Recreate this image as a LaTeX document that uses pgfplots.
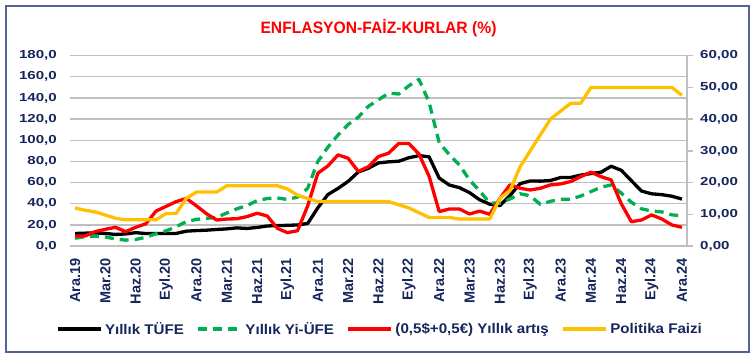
\documentclass[border=0pt]{standalone}
\usepackage{fontspec}
\setmainfont{Liberation Sans}[FakeStretch=1.08]
\newfontfamily\titlefont{Liberation Sans}[FakeStretch=0.95]
\newfontfamily\tickfont{Liberation Sans}[FakeStretch=1.3]
\newfontfamily\plainfont{Liberation Sans}
\usepackage{pgfplots}
\usepackage{pgfplotstable}
\pgfplotsset{compat=1.18}
\definecolor{navy}{RGB}{22,38,92}
\definecolor{gridgray}{RGB}{191,191,191}
\definecolor{framecol}{RGB}{80,100,150}
\definecolor{cgreen}{RGB}{0,176,80}
\definecolor{cred}{RGB}{255,0,0}
\definecolor{cyellow}{RGB}{255,192,0}

\pgfplotstableread{
m tufe ufe kur faiz
0 11.84 7.36 9.5 12
1 12.15 8.84 9.5 11.25
2 12.37 9.26 13.6 10.75
3 11.86 8.50 15.8 9.75
4 10.94 6.71 17.7 8.75
5 11.39 5.53 13.6 8.25
6 12.62 6.17 17.7 8.25
7 11.76 8.33 21 8.25
8 11.77 11.53 33 8.25
9 11.75 14.33 37.5 10.25
10 11.89 18.20 42 10.25
11 14.03 23.11 45 15
12 14.60 25.15 38 17
13 14.97 26.16 30.5 17
14 15.61 27.09 24.6 17
15 16.19 31.20 25.5 19
16 17.14 35.17 25.8 19
17 16.59 38.33 27.8 19
18 17.53 42.89 31 19
19 18.95 44.92 28.4 19
20 19.25 45.52 16.7 19
21 19.58 43.96 12.6 18
22 19.89 46.31 14.5 16
23 21.31 54.62 38 15
24 36.08 79.89 68.8 14
25 48.69 93.53 75.8 14
26 54.44 105.01 86.2 14
27 61.14 114.97 83 14
28 69.97 121.82 70.5 14
29 73.50 132.16 75 14
30 78.62 138.31 84.6 14
31 79.60 144.61 87.8 14
32 80.21 143.75 97 13
33 83.45 151.50 97 12
34 85.51 157.69 87 10.5
35 84.39 136.02 66 9
36 64.27 97.72 32.5 9
37 57.68 86.46 35 9
38 55.18 76.61 35 8.5
39 50.51 62.43 30.3 8.5
40 43.68 52.11 33 8.5
41 39.59 40.76 30 8.5
42 38.21 40.42 45 15
43 47.83 44.50 57.8 17.5
44 58.94 49.41 54.6 25
45 61.53 47.44 53 30
46 61.36 39.39 54.6 35
47 61.98 42.25 57.8 40
48 64.77 44.22 58.7 42.5
49 64.86 44.20 61 45
50 67.07 47.29 65.6 45
51 68.50 51.47 69.8 50
52 69.80 55.66 65.6 50
53 75.45 57.68 62.5 50
54 71.60 50.09 40 50
55 61.78 41.37 23 50
56 51.97 35.17 24.6 50
57 49.38 33.09 29.4 50
58 48.58 32.24 25.6 50
59 47.09 29.47 19.9 50
60 44.38 28.52 17.7 47.5
}\datatable

\begin{document}
\begin{tikzpicture}
\path[use as bounding box] (0,0) rectangle (756bp,358bp);
\draw[framecol, line width=1.5bp] (6bp,6bp) rectangle (749bp,352bp);
\node[text=cred, font=\titlefont\bfseries\fontsize{16.5bp}{18bp}\selectfont] at (378.5bp,330bp) {ENFLASYON-FAİZ-KURLAR (\%)};

\begin{axis}[
  at={(70bp,112bp)}, anchor=south west,
  scale only axis, width=617bp, height=190.3bp,
  xmin=-0.5, xmax=60.5, ymin=0, ymax=180,
  axis line style={draw=none},
  xtick={0,3,...,60},
  xticklabels={Ara.19,Mar.20,Haz.20,Eyl.20,Ara.20,Mar.21,Haz.21,Eyl.21,Ara.21,Mar.22,Haz.22,Eyl.22,Ara.22,Mar.23,Haz.23,Eyl.23,Ara.23,Mar.24,Haz.24,Eyl.24,Ara.24},
  xtick style={draw=none},
  xticklabel style={rotate=90, anchor=east, inner sep=0pt, font=\plainfont\bfseries\fontsize{14.5bp}{16bp}\selectfont, text=navy},
  xticklabel shift=12bp,
  ytick={0,20,...,180},
  ytick style={draw=none},
  ymajorgrids, grid style={gridgray, line width=1.3bp},
  yticklabel style={anchor=east, inner sep=0pt, font=\tickfont\bfseries\fontsize{11.6bp}{13bp}\selectfont, text=navy,
    /pgf/number format/fixed, /pgf/number format/fixed zerofill, /pgf/number format/precision=1,
    /pgf/number format/use comma, /pgf/number format/1000 sep={}, /pgf/number format/assume math mode=true},
  yticklabel shift=13bp,
  legend style={draw=none, fill=none, at={(0.502,-0.436)}, anchor=center, legend columns=4,
    font=\bfseries\fontsize{14bp}{16bp}\selectfont, text=navy,
    /tikz/every even column/.append style={column sep=10bp}, nodes={inner sep=2bp}},
  legend image code/.code={\draw[#1, line width=4.5bp] (0bp,0bp) -- (43bp,0bp);},
  line join=round,
]
\addplot[black, line width=3.3bp] table[x=m, y=tufe] {\datatable};
\addlegendentry{Yıllık TÜFE}
\addplot[cgreen, line width=3.3bp, dash pattern=on 9bp off 6bp] table[x=m, y=ufe] {\datatable};
\addlegendentry{Yıllık Yi-ÜFE}
\addplot[cred, line width=3.3bp] table[x=m, y=kur] {\datatable};
\addlegendentry{(0,5\$+0,5€) Yıllık artış}
\addlegendimage{cyellow, line width=3.3bp}
\addlegendentry{Politika Faizi}
\end{axis}

\begin{axis}[
  at={(70bp,112bp)}, anchor=south west,
  scale only axis, width=617bp, height=190.3bp,
  xmin=-0.5, xmax=60.5, ymin=0, ymax=60,
  axis x line=none, axis y line*=right,
  y axis line style={gridgray, line width=1.3bp, -},
  ytick={0,10,...,60},
  ytick style={gridgray, line width=1.3bp},
  major tick length=6bp, tick align=outside,
  yticklabel style={anchor=west, inner sep=0pt, font=\tickfont\bfseries\fontsize{11.6bp}{13bp}\selectfont, text=navy,
    /pgf/number format/fixed, /pgf/number format/fixed zerofill, /pgf/number format/precision=2,
    /pgf/number format/use comma, /pgf/number format/1000 sep={}, /pgf/number format/assume math mode=true},
  yticklabel shift=7bp,
  line join=round,
]
\addplot[cyellow, line width=3.3bp] table[x=m, y=faiz] {\datatable};
\end{axis}
\end{tikzpicture}
\end{document}
